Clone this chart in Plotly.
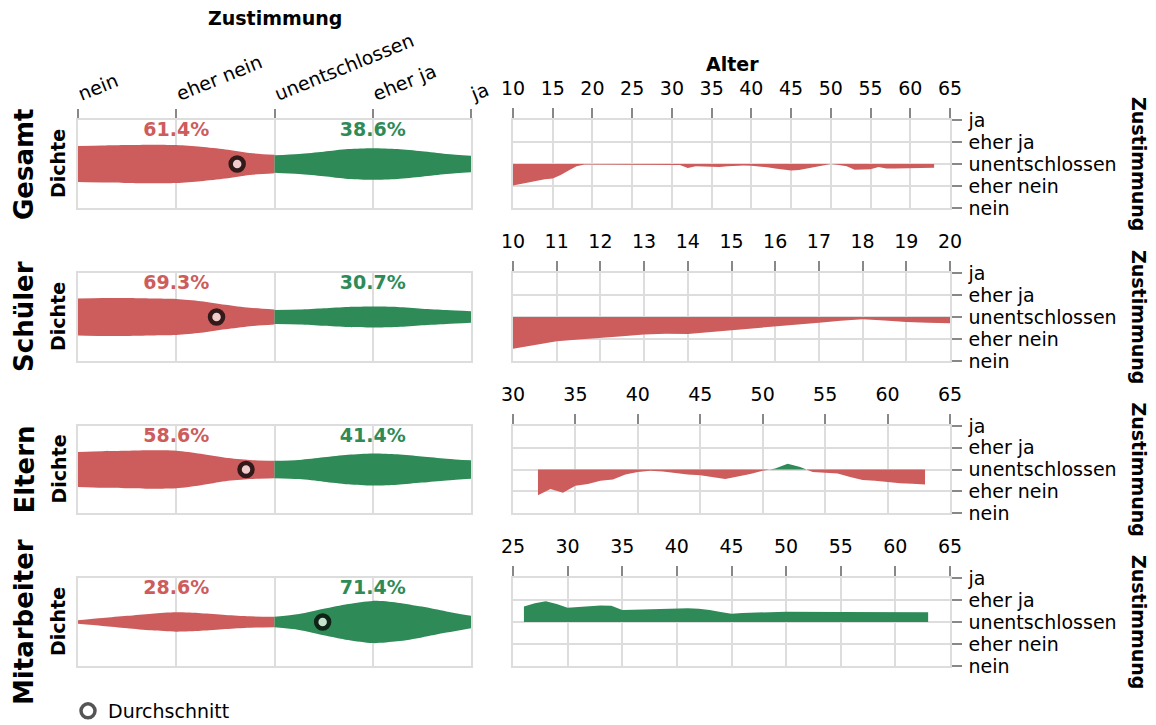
import plotly.graph_objects as go

# ---------------- data ----------------
categories = ["nein", "eher nein", "unentschlossen", "eher ja", "ja"]
groups = ["Gesamt", "Schüler", "Eltern", "Mitarbeiter"]
pct_neg = [61.4, 69.3, 58.6, 28.6]
pct_pos = [38.6, 30.7, 41.4, 71.4]
mean_score = [1.62, 1.41, 1.71, 2.49]   # 0 = nein ... 4 = ja

# density (half width) on the Zustimmung scale
dens_x_neg = [0, 0.25, 0.5, 0.75, 1.0, 1.25, 1.5, 1.75, 2.0]
dens_x_pos = [2.0, 2.25, 2.5, 2.75, 3.0, 3.25, 3.5, 3.75, 4.0]
dens_neg_gesamt = [0.41, 0.42, 0.43, 0.44, 0.43, 0.39, 0.33, 0.25, 0.21]
dens_pos_gesamt = [0.20, 0.23, 0.28, 0.34, 0.36, 0.34, 0.29, 0.23, 0.19]
dens_neg_schueler = [0.42, 0.43, 0.43, 0.42, 0.41, 0.36, 0.28, 0.21, 0.17]
dens_pos_schueler = [0.16, 0.17, 0.20, 0.23, 0.24, 0.23, 0.19, 0.16, 0.13]
dens_neg_eltern = [0.40, 0.42, 0.43, 0.44, 0.43, 0.36, 0.27, 0.22, 0.20]
dens_pos_eltern = [0.20, 0.22, 0.28, 0.34, 0.37, 0.35, 0.30, 0.25, 0.21]
dens_neg_mitarbeiter = [0.04, 0.09, 0.14, 0.19, 0.22, 0.20, 0.16, 0.13, 0.12]
dens_pos_mitarbeiter = [0.12, 0.18, 0.30, 0.41, 0.48, 0.44, 0.35, 0.24, 0.14]

# mean Zustimmung by age (-2 = nein ... 2 = ja)
age_gesamt = [10, 11, 12, 13, 14, 15, 16, 17, 18, 19, 20, 25, 30, 31, 32, 33, 34, 35, 36, 37, 38, 39,
              40, 41, 42, 43, 44, 45, 46, 47, 48, 49, 50, 51, 52, 53, 54, 55, 56, 57, 58, 59, 60,
              61, 62, 63]
val_gesamt = [-0.98, -0.90, -0.82, -0.75, -0.69, -0.66, -0.50, -0.30, -0.10, -0.02, -0.02, -0.02,
              -0.02, -0.05, -0.18, -0.10, -0.11, -0.12, -0.14, -0.10, -0.08, -0.07, -0.08, -0.10,
              -0.15, -0.20, -0.26, -0.30, -0.27, -0.21, -0.14, -0.06, 0.0, -0.05, -0.10, -0.26,
              -0.25, -0.24, -0.14, -0.20, -0.20, -0.19, -0.18, -0.17, -0.17, -0.17]
age_schueler = [10, 10.5, 11, 11.5, 12, 12.5, 13, 13.5, 14, 14.5, 15, 15.5, 16, 16.5, 17, 17.5,
                18, 18.5, 19, 19.5, 20]
val_schueler = [-1.44, -1.26, -1.10, -1.02, -0.96, -0.87, -0.79, -0.76, -0.77, -0.69, -0.60,
                -0.52, -0.44, -0.35, -0.26, -0.17, -0.10, -0.16, -0.23, -0.26, -0.28]
age_eltern = [32, 33, 34, 35, 36, 37, 38, 39, 40, 41, 42, 43, 44, 45, 46, 47, 48, 49, 50, 51, 52,
              53, 54, 55, 56, 57, 58, 59, 60, 61, 62, 63]
val_eltern = [-1.18, -0.90, -1.07, -0.75, -0.67, -0.52, -0.46, -0.23, -0.12, -0.06, -0.09, -0.17,
              -0.23, -0.26, -0.34, -0.44, -0.32, -0.21, -0.06, 0.05, 0.27, 0.12, -0.12, -0.14,
              -0.18, -0.35, -0.48, -0.52, -0.58, -0.63, -0.66, -0.69]
age_mitarbeiter = [26, 27, 28, 29, 30, 31, 32, 33, 34, 35, 36, 37, 38, 39, 40, 41, 42, 43, 44, 45,
                   46, 47, 48, 50, 55, 60, 63]
val_mitarbeiter = [0.71, 0.85, 0.94, 0.82, 0.65, 0.68, 0.72, 0.75, 0.74, 0.55, 0.56, 0.58, 0.60,
                   0.62, 0.64, 0.63, 0.60, 0.55, 0.45, 0.38, 0.41, 0.43, 0.45, 0.47, 0.45, 0.44,
                   0.44]

age_ranges = [[10, 65], [10, 20], [30, 65], [25, 65]]
age_dticks = [5, 1, 5, 5]

# ---------------- styling ----------------
RED = "#cd5c5c"
GREEN = "#2e8b57"
GRID = "#dddddd"
TICK = "#888888"
FONT = "DejaVu Sans"
W, H = 1156, 725

left_x = [78 / W, 471 / W]
right_x = [513 / W, 950 / W]
row_px = [(120, 208), (273, 361), (426, 513), (578, 666)]
row_dom = [[1 - b / H, 1 - t / H] for t, b in row_px]

dens_neg = [dens_neg_gesamt, dens_neg_schueler, dens_neg_eltern, dens_neg_mitarbeiter]
dens_pos = [dens_pos_gesamt, dens_pos_schueler, dens_pos_eltern, dens_pos_mitarbeiter]
ages = [age_gesamt, age_schueler, age_eltern, age_mitarbeiter]
vals = [val_gesamt, val_schueler, val_eltern, val_mitarbeiter]


def split_sign(xs, vs):
    """insert zero crossings so the area can be coloured by sign"""
    ox, ov = [xs[0]], [vs[0]]
    for i in range(1, len(xs)):
        a, b = vs[i - 1], vs[i]
        if a * b < 0:
            t = a / (a - b)
            ox.append(xs[i - 1] + t * (xs[i] - xs[i - 1]))
            ov.append(0.0)
        ox.append(xs[i])
        ov.append(vs[i])
    return ox, [min(v, 0) for v in ov], [max(v, 0) for v in ov]


fig = go.Figure()
layout = {}
annotations = []

for r, g in enumerate(groups):
    lx, ly = f"x{2 * r + 1}", f"y{2 * r + 1}"
    rx, ry = f"x{2 * r + 2}", f"y{2 * r + 2}"

    # --- violin halves ---
    for xs, d, col in [(dens_x_neg, dens_neg[r], RED), (dens_x_pos, dens_pos[r], GREEN)]:
        fig.add_trace(go.Scatter(x=xs, y=[-v for v in d], mode="lines",
                                 line=dict(width=0, color=col, shape="spline", smoothing=0.8),
                                 xaxis=lx, yaxis=ly, showlegend=False, hoverinfo="skip"))
        fig.add_trace(go.Scatter(x=xs, y=d, mode="lines", fill="tonexty", fillcolor=col,
                                 line=dict(width=0, color=col, shape="spline", smoothing=0.8),
                                 xaxis=lx, yaxis=ly, showlegend=False, hoverinfo="skip"))
    # percentages
    fig.add_trace(go.Scatter(x=[1, 3], y=[0.75, 0.75], mode="text",
                             text=[f"{pct_neg[r]:.1f}%", f"{pct_pos[r]:.1f}%"],
                             textfont=dict(family=FONT, size=19, color=[RED, GREEN], weight="bold"),
                             xaxis=lx, yaxis=ly, showlegend=False, hoverinfo="skip"))
    # mean
    neg_side = mean_score[r] < 2
    fig.add_trace(go.Scatter(x=[mean_score[r]], y=[0], mode="markers",
                             marker=dict(size=13, color="#f0cccc" if neg_side else "#c4e2cc",
                                         line=dict(width=4.5, color="#331a1a" if neg_side else "#0f2416")),
                             xaxis=lx, yaxis=ly, showlegend=False))

    # --- age area ---
    ax_, neg, pos = split_sign(ages[r], vals[r])
    fig.add_trace(go.Scatter(x=ax_, y=neg, mode="lines", fill="tozeroy", fillcolor=RED,
                             line=dict(width=0, color=RED), xaxis=rx, yaxis=ry,
                             showlegend=False, hoverinfo="skip"))
    fig.add_trace(go.Scatter(x=ax_, y=pos, mode="lines", fill="tozeroy", fillcolor=GREEN,
                             line=dict(width=0, color=GREEN), xaxis=rx, yaxis=ry,
                             showlegend=False, hoverinfo="skip"))

    sfx_l = "" if r == 0 else str(2 * r + 1)
    sfx_r = str(2 * r + 2)
    layout[f"xaxis{sfx_l}"] = dict(
        domain=left_x, range=[0, 4], anchor=ly, side="top",
        tickvals=[0, 1, 2, 3, 4], ticktext=categories,
        showticklabels=(r == 0), ticks="outside" if r == 0 else "", ticklen=9,
        tickcolor=TICK, tickwidth=1.5, tickangle=-22,
        showgrid=True, gridcolor=GRID, gridwidth=1.5, zeroline=False,
        showline=True, linecolor=GRID, linewidth=1.5, mirror=True, fixedrange=True)
    layout[f"yaxis{sfx_l}"] = dict(
        domain=row_dom[r], range=[-1, 1], anchor=lx, showticklabels=False, ticks="",
        showgrid=False, zeroline=False, showline=True, linecolor=GRID, linewidth=1.5,
        mirror=True, fixedrange=True)
    layout[f"xaxis{sfx_r}"] = dict(
        domain=right_x, range=age_ranges[r], anchor=ry, side="top", dtick=age_dticks[r],
        tick0=0, ticks="outside", ticklen=10, tickcolor=TICK, tickwidth=1.5,
        ticklabelstandoff=6,
        showgrid=True, gridcolor=GRID, gridwidth=1.5, zeroline=False,
        showline=True, linecolor=GRID, linewidth=1.5, mirror=True, fixedrange=True)
    layout[f"yaxis{sfx_r}"] = dict(
        domain=row_dom[r], range=[-2, 2], anchor=rx, side="right",
        tickvals=[-2, -1, 0, 1, 2], ticktext=categories,
        ticks="outside", ticklen=10, tickcolor=TICK, tickwidth=1.5, ticklabelstandoff=3,
        showgrid=True, gridcolor=GRID, gridwidth=1.5, zeroline=False,
        showline=True, linecolor=GRID, linewidth=1.5, mirror=True, fixedrange=True)

    cy = 1 - (row_px[r][0] + row_px[r][1]) / 2 / H
    annotations.append(dict(text=f"<b>{g}</b>", x=24 / W, y=cy, xref="paper", yref="paper",
                            textangle=-90, showarrow=False, font=dict(size=26, family=FONT),
                            xanchor="center", yanchor="middle"))
    annotations.append(dict(text="<b>Dichte</b>", x=58 / W, y=cy, xref="paper", yref="paper",
                            textangle=-90, showarrow=False, font=dict(size=19, family=FONT),
                            xanchor="center", yanchor="middle"))
    annotations.append(dict(text="<b>Zustimmung</b>", x=1139 / W, y=cy, xref="paper", yref="paper",
                            textangle=90, showarrow=False, font=dict(size=19, family=FONT),
                            xanchor="center", yanchor="middle"))

annotations.append(dict(text="<b>Zustimmung</b>", x=275 / W, y=1 - 18 / H, xref="paper",
                        yref="paper", showarrow=False, font=dict(size=19, family=FONT),
                        xanchor="center", yanchor="middle"))
annotations.append(dict(text="<b>Alter</b>", x=732 / W, y=1 - 64 / H, xref="paper",
                        yref="paper", showarrow=False, font=dict(size=19, family=FONT),
                        xanchor="center", yanchor="middle"))

# legend entry
fig.add_trace(go.Scatter(x=[None], y=[None], mode="markers", name="Durchschnitt",
                         marker=dict(symbol="circle", size=14, color="white",
                                     line=dict(width=3.5, color="#555555")),
                         xaxis="x", yaxis="y", showlegend=True))

fig.update_layout(
    autosize=True, margin=dict(l=0, r=0, t=0, b=0, pad=0, autoexpand=False),
    plot_bgcolor="white", paper_bgcolor="white",
    font=dict(family=FONT, size=19, color="#000000"),
    annotations=annotations,
    legend=dict(x=68 / W, y=1 - 711 / H, xanchor="left", yanchor="middle",
                font=dict(size=19, family=FONT), bgcolor="rgba(0,0,0,0)",
                borderwidth=0, itemclick=False),
    **layout,
)

fig.write_html("out.html",
               config={"displayModeBar": False, "responsive": False},
               default_width="1156px; position:absolute; left:0; top:0",
               default_height="725px",
               post_script="document.body.style.margin='0';")
